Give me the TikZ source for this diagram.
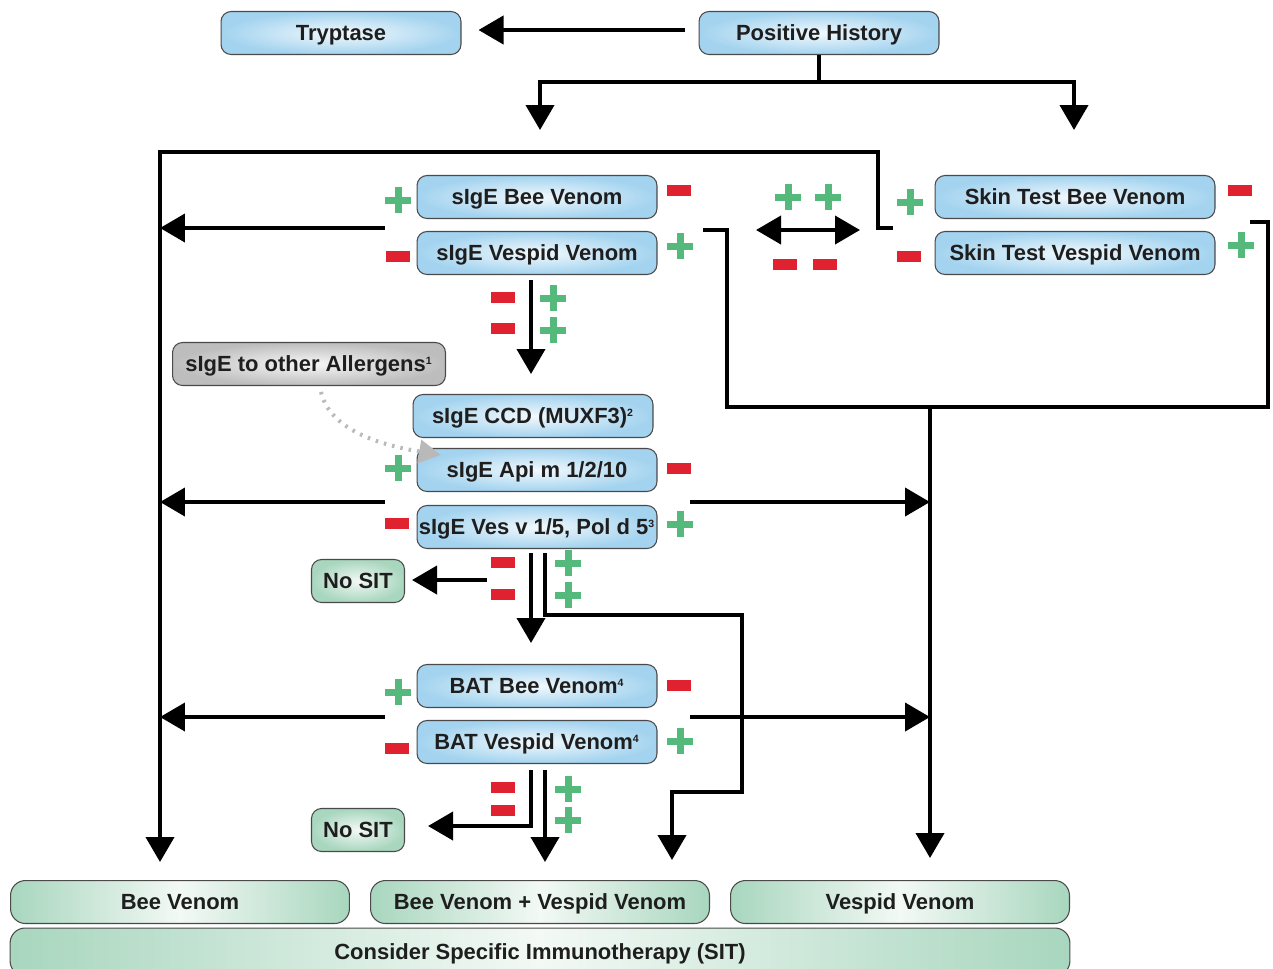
\documentclass[tikz,border=0pt]{standalone}
\usepackage{fontspec}
\setmainfont{Liberation Sans}
\usetikzlibrary{arrows.meta,calc}
\definecolor{bluein}{HTML}{F2F9FD}
\definecolor{blueout}{HTML}{A3D3EF}
\definecolor{greenin}{HTML}{F3F9F5}
\definecolor{greenout}{HTML}{A8D6BE}
\definecolor{grayin}{HTML}{F7F7F7}
\definecolor{grayout}{HTML}{BDBDBD}
\definecolor{pgreen}{HTML}{55B97C}
\definecolor{mred}{HTML}{E0212F}
\definecolor{edgec}{HTML}{4A4A4A}
\definecolor{txt}{HTML}{1E1E1E}
\newcommand\supx[1]{\textsuperscript{\fontsize{6}{6}\selectfont #1}}
\begin{document}
\begin{tikzpicture}[x=0.02cm,y=-0.02cm,
  box/.style={draw=edgec, line width=0.6pt, rounded corners=0.2cm, inner xsep=0pt,
     text height=9pt, text depth=0pt,
     font=\fontsize{12.5}{14}\selectfont\bfseries, text=txt},
  bluebox/.style={box, inner color=bluein, outer color=blueout, minimum width=4.8cm, minimum height=0.86cm},
  graybox/.style={box, inner color=grayin, outer color=grayout, minimum width=5.46cm, minimum height=0.86cm},
  greenbox/.style={box, inner color=greenin, outer color=greenout, minimum width=1.86cm, minimum height=0.86cm},
  bigbox/.style={box, rounded corners=0.3cm, left color=greenout, right color=greenout, middle color=greenin, minimum width=6.78cm, minimum height=0.86cm},
  conn/.style={line width=0.08cm, black},
  arr/.style={conn, -{Triangle[length=0.5cm,width=0.56cm]}},
  darr/.style={conn, {Triangle[length=0.5cm,width=0.56cm]}-{Triangle[length=0.5cm,width=0.56cm]}},
  dotline/.style={line width=0.08cm, gray!55, dash pattern=on 0.05cm off 0.12cm, -{Triangle[length=0.44cm,width=0.46cm]}},
  pplus/.pic={\fill[pgreen] (-13,-3.5) rectangle (13,3.5); \fill[pgreen] (-3.5,-13) rectangle (3.5,13);},
  mminus/.pic={\fill[mred] (-12,-5.5) rectangle (12,5.5);}
]
\useasboundingbox (0,0) rectangle (1273,968);

% ---------- nodes ----------
\node[bluebox] (tryp) at (341,33) {Tryptase};
\node[bluebox] (ph) at (819,33) {Positive History};
\node[bluebox] (sbee) at (537,197) {sIgE Bee Venom};
\node[bluebox] (sves) at (537,253) {sIgE Vespid Venom};
\node[bluebox, minimum width=5.6cm] (stbee) at (1075,197) {Skin Test Bee Venom};
\node[bluebox, minimum width=5.6cm] (stves) at (1075,253) {Skin Test Vespid Venom};
\node[graybox] (other) at (309,364) {sIgE to other Allergens\supx{1}};
\node[bluebox] (ccd) at (533,416) {sIgE CCD (MUXF3)\supx{2}};
\node[bluebox] (api) at (537,470) {sIgE Api m 1/2/10};
\node[bluebox] (ves) at (537,527) {sIgE Ves v 1/5, Pol d 5\supx{3}};
\node[greenbox] (nosita) at (358,581) {No SIT};
\node[bluebox] (batbee) at (537,686) {BAT Bee Venom\supx{4}};
\node[bluebox] (batves) at (537,742) {BAT Vespid Venom\supx{4}};
\node[greenbox] (nositb) at (358,830) {No SIT};
\node[bigbox] (bee) at (180,902) {Bee Venom};
\node[bigbox] (both) at (540,902) {Bee Venom + Vespid Venom};
\node[bigbox] (vesp) at (900,902) {Vespid Venom};
\node[bigbox, minimum width=21.2cm, minimum height=0.96cm] (sit) at (540,952) {Consider Specific Immunotherapy (SIT)};

% ---------- coordinates ----------
\coordinate (j0) at (819,82);
\coordinate (dL) at (540,130);
\coordinate (dR) at (1074,130);
\coordinate (stj) at (893,228);
\coordinate (tr) at (878,152);
\coordinate (tl) at (160,152);
\coordinate (beeTip) at (160,862);
\coordinate (sL) at (385,228);
\coordinate (busA) at (160,228);
\coordinate (sR) at (703,230);
\coordinate (rb) at (727,407);
\coordinate (rr) at (1268,222);
\coordinate (stR) at (1250,222);
\coordinate (vj) at (930,407);
\coordinate (vesTip) at (930,858);
\coordinate (da1) at (756,230);
\coordinate (da2) at (860,230);
\coordinate (d1a) at (531,280);
\coordinate (d1b) at (531,374);
\coordinate (aL) at (385,502);
\coordinate (busB) at (160,502);
\coordinate (aR) at (690,502);
\coordinate (rbusB) at (930,502);
\coordinate (v1a) at (531,553);
\coordinate (v1b) at (531,643);
\coordinate (v2a) at (545,553);
\coordinate (v2c) at (742,615);
\coordinate (v2d) at (672,792);
\coordinate (bothTipR) at (672,860);
\coordinate (n1a) at (487,580);
\coordinate (n1b) at (412,580);
\coordinate (bL) at (385,717);
\coordinate (busC) at (160,717);
\coordinate (bR) at (690,717);
\coordinate (rbusC) at (930,717);
\coordinate (w1a) at (531,770);
\coordinate (w1c) at (428,826);
\coordinate (w2a) at (545,770);
\coordinate (w2b) at (545,862);
\coordinate (dt0) at (321,392);
\coordinate (dt1) at (441,455);

% ---------- connectors ----------
\draw[arr, shorten <=0.28cm, shorten >=0.34cm] ([yshift=0.06cm]ph.west) -- ([yshift=0.06cm]tryp.east);
\draw[conn] (ph.south) -- (j0);
\draw[arr] (j0) -| (dL);
\draw[arr] (j0) -| (dR);
\draw[arr] (stj) -| (tr) -- (tl) -- (beeTip);
\draw[arr] (sL) -- (busA);
\draw[conn] (sR) -| (rb) -| (rr) -- (stR);
\draw[arr] (vj) -- (vesTip);
\draw[darr] (da1) -- (da2);
\draw[arr] (d1a) -- (d1b);
\draw[arr] (aL) -- (busB);
\draw[arr] (aR) -- (rbusB);
\draw[arr] (v1a) -- (v1b);
\draw[arr] (v2a) |- (v2c) |- (v2d) -- (bothTipR);
\draw[arr] (n1a) -- (n1b);
\draw[arr] (bL) -- (busC);
\draw[arr] (bR) -- (rbusC);
\draw[arr] (w1a) |- (w1c);
\draw[arr] (w2a) -- (w2b);
\draw[dotline] (dt0) .. controls (330,430) and (380,445) .. (dt1);

% ---------- plus / minus signs ----------
\pic at (398,200) {pplus};   \pic at (679,190) {mminus};
\pic at (398,256) {mminus};  \pic at (680,246) {pplus};
\pic at (788,197) {pplus};   \pic at (828,197) {pplus};
\pic at (785,264) {mminus};  \pic at (825,264) {mminus};
\pic at (910,202) {pplus};   \pic at (1240,190) {mminus};
\pic at (909,256) {mminus};  \pic at (1241,245) {pplus};
\pic at (503,297) {mminus};  \pic at (503,328) {mminus};
\pic at (553,298) {pplus};   \pic at (553,330) {pplus};
\pic at (398,468) {pplus};   \pic at (679,468) {mminus};
\pic at (397,523) {mminus};  \pic at (680,524) {pplus};
\pic at (503,562) {mminus};  \pic at (503,594) {mminus};
\pic at (568,563) {pplus};   \pic at (568,595) {pplus};
\pic at (398,692) {pplus};   \pic at (679,685) {mminus};
\pic at (397,748) {mminus};  \pic at (680,741) {pplus};
\pic at (503,787) {mminus};  \pic at (503,810) {mminus};
\pic at (568,789) {pplus};   \pic at (568,820) {pplus};
\end{tikzpicture}
\end{document}
